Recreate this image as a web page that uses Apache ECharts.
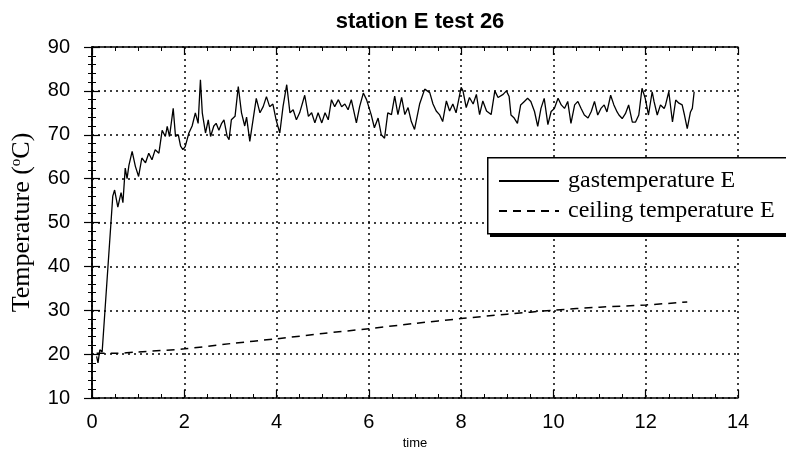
<!DOCTYPE html>
<html>
<head>
<meta charset="utf-8">
<script src="https://cdn.jsdelivr.net/npm/echarts@6/dist/echarts.min.js"></script>
<style>html,body{margin:0;padding:0;background:#fff}#c{width:786px;height:455px}</style>
</head>
<body>
<div id="c"></div>
<script>
const titleText = 'station E test 26';
const seriesNames = ['gastemperature E', 'ceiling temperature E'];
const xTicks = [0, 2, 4, 6, 8, 10, 12, 14];
const yTicks = [10, 20, 30, 40, 50, 60, 70, 80, 90];

const gasTime = [0.10,0.13,0.17,0.22,0.45,0.49,0.56,0.63,0.67,0.72,0.76,0.80,0.87,0.94,1.01,1.08,1.16,1.23,1.30,1.37,1.45,1.52,1.59,1.63,1.68,1.76,1.81,1.87,1.92,1.97,2.02,2.10,2.17,2.24,2.30,2.35,2.39,2.46,2.52,2.57,2.64,2.69,2.75,2.81,2.86,2.93,2.97,3.02,3.10,3.17,3.24,3.31,3.35,3.42,3.49,3.56,3.64,3.71,3.78,3.85,3.92,3.99,4.07,4.14,4.22,4.29,4.36,4.43,4.50,4.61,4.69,4.76,4.83,4.90,4.98,5.05,5.12,5.19,5.26,5.34,5.41,5.48,5.55,5.62,5.73,5.80,5.88,5.95,6.05,6.12,6.20,6.27,6.34,6.41,6.49,6.56,6.63,6.71,6.78,6.85,6.92,6.99,7.10,7.21,7.32,7.39,7.46,7.53,7.60,7.68,7.75,7.82,7.89,8.00,8.04,8.11,8.18,8.26,8.33,8.40,8.47,8.55,8.65,8.73,8.80,8.91,8.98,9.04,9.08,9.15,9.22,9.29,9.37,9.44,9.51,9.59,9.66,9.73,9.80,9.88,9.95,10.02,10.10,10.17,10.24,10.31,10.38,10.46,10.53,10.60,10.67,10.75,10.82,10.89,10.96,11.03,11.10,11.16,11.24,11.31,11.38,11.42,11.49,11.56,11.63,11.71,11.78,11.85,11.92,11.99,12.06,12.14,12.18,12.25,12.32,12.40,12.43,12.50,12.58,12.65,12.72,12.79,12.84,12.90,12.97,13.01,13.05];
const gasTemp = [19.5,18.0,21.0,20.5,56.0,57.4,53.5,56.8,54.5,62.4,60.0,63.0,66.2,62.8,60.5,64.7,63.6,65.8,64.3,66.6,65.8,71.0,69.6,71.9,69.6,76.0,69.6,70.0,67.4,66.6,67.3,70.4,72.0,75.0,72.6,82.5,75.0,70.4,73.4,69.6,72.0,72.6,71.0,72.6,73.4,69.6,68.9,73.4,74.2,81.0,75.0,72.0,74.0,68.5,73.4,78.3,75.0,76.4,78.7,76.4,77.0,73.4,70.4,76.4,81.4,75.0,75.7,73.4,75.0,79.0,74.2,75.0,72.7,75.0,72.7,75.0,73.4,78.0,76.4,78.0,76.4,77.0,75.7,78.0,72.7,76.4,79.5,78.0,74.6,71.6,73.8,70.0,69.2,75.0,74.6,78.8,74.6,78.5,74.6,76.2,73.0,71.2,77.0,80.4,79.6,77.0,75.4,74.6,73.0,77.7,75.4,77.0,75.0,80.8,80.0,76.2,78.5,77.0,79.2,74.6,77.7,75.4,74.6,80.0,78.5,79.2,80.0,78.7,74.5,73.8,72.6,76.8,77.6,78.3,77.6,75.3,71.9,76.0,78.3,72.3,75.3,76.0,78.3,76.8,76.0,77.6,72.6,76.8,77.6,76.0,74.5,73.8,75.3,77.6,74.5,76.0,76.8,75.2,79.0,76.8,75.2,74.5,73.7,74.8,76.8,72.9,72.9,74.5,80.6,78.3,74.5,79.8,77.6,74.5,76.8,76.0,76.8,79.8,72.9,77.9,77.2,76.8,74.5,71.4,75.2,76.0,79.8,77.6];

const ceilTime = [0.10,0.5,1.0,2.0,3.0,4.0,5.0,6.0,7.0,8.0,9.0,10.0,11.0,12.0,12.9];
const ceilTemp = [20.2,20.2,20.5,21.2,22.4,23.5,24.7,25.8,27.0,28.1,29.1,30.0,30.7,31.2,31.9];

const pair = (a, b) => a.map((v, i) => [v, b[i]]);

const chart = echarts.init(document.getElementById('c'));
const axisCommon = {
  axisLine: { show: true, lineStyle: { color: '#000', width: 1.5 } },
  axisTick: { show: true, inside: true, length: 8, lineStyle: { color: '#000', width: 1.2 } }
};
chart.setOption({
  animation: false,
  backgroundColor: '#fff',
  title: {
    text: titleText, left: 415, top: 6, textAlign: 'center',
    textStyle: { fontFamily: 'Liberation Sans', fontWeight: 'bold', fontSize: 22, color: '#000' }
  },
  grid: { left: 92, right: 48, top: 47, bottom: 57 },
  graphic: [
    { type: 'rect', z: 100, left: 490, top: 161, shape: { width: 330, height: 76 }, style: { fill: '#000' } },
    { type: 'rect', z: 100, left: 487, top: 157, shape: { width: 330, height: 76 },
      style: { fill: '#fff', stroke: '#000', lineWidth: 1.5 } }
  ],
  legend: {
    z: 101, orient: 'vertical', left: 498, top: 169, padding: 0, itemGap: 6,
    itemWidth: 60, itemHeight: 14,
    data: seriesNames,
    itemStyle: { opacity: 0 },
    textStyle: { fontFamily: 'Liberation Serif', fontSize: 24, color: '#000', padding: [0, 0, 0, 4] }
  },
  xAxis: [
    Object.assign({
      type: 'value', min: xTicks[0], max: xTicks[xTicks.length - 1], interval: 2,
      name: 'time', nameLocation: 'middle', nameGap: 38,
      nameTextStyle: { fontFamily: 'Liberation Sans', fontSize: 13, color: '#000' },
      axisLabel: { fontFamily: 'Liberation Sans', fontSize: 20, color: '#000', margin: 14 },
      splitLine: { show: true, lineStyle: { color: '#000', type: [2, 4], width: 1.5 } }
    }, axisCommon, { minorTick: { show: true, splitNumber: 4, length: 4, lineStyle: { color: '#000' } } }),
    Object.assign({
      type: 'value', position: 'top', min: 0, max: 14, interval: 2,
      axisLabel: { show: false }, splitLine: { show: false }
    }, axisCommon, { minorTick: { show: true, splitNumber: 4, length: 4, lineStyle: { color: '#000' } } })
  ],
  yAxis: [
    Object.assign({
      type: 'value', min: yTicks[0], max: yTicks[yTicks.length - 1], interval: 10,
      name: 'Temperature ({s|o}C)', nameLocation: 'middle', nameGap: 56,
      nameTextStyle: { fontFamily: 'Liberation Serif', fontSize: 26, color: '#000',
        rich: { s: { fontFamily: 'Liberation Serif', fontSize: 15, color: '#000', padding: [0, 0, 12, 0] } } },
      axisLabel: { fontFamily: 'Liberation Sans', fontSize: 20, color: '#000', margin: 22 },
      splitLine: { show: true, lineStyle: { color: '#000', type: [2, 4], width: 1.5 } }
    }, axisCommon, { minorTick: { show: true, splitNumber: 5, length: 4, lineStyle: { color: '#000' } } }),
    Object.assign({
      type: 'value', position: 'right', min: 10, max: 90, interval: 10,
      axisLabel: { show: false }, splitLine: { show: false }
    }, axisCommon, { minorTick: { show: true, splitNumber: 5, length: 4, lineStyle: { color: '#000' } } })
  ],
  series: [
    {
      name: seriesNames[0], type: 'line', data: pair(gasTime, gasTemp),
      symbol: 'none', lineStyle: { color: '#000', width: 1.3 }, itemStyle: { color: '#000' }, z: 3
    },
    {
      name: seriesNames[1], type: 'line', data: pair(ceilTime, ceilTemp),
      symbol: 'none', smooth: 0.3, lineStyle: { color: '#000', width: 1.5, type: [8, 6] }, itemStyle: { color: '#000' }, z: 3
    }
  ]
});
</script>
</body>
</html>
